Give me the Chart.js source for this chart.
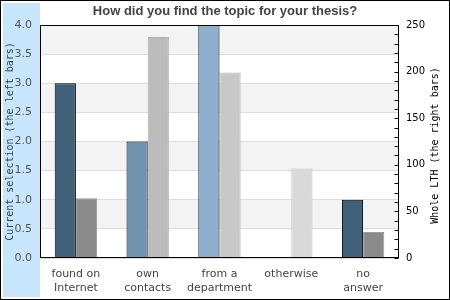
<!DOCTYPE html>
<html>
<head>
<meta charset="utf-8">
<script src="https://cdn.jsdelivr.net/npm/chart.js@4.4.1/dist/chart.umd.min.js"></script>
<style>
  html, body { margin:0; padding:0; background:#fff; }
  canvas { display:block; }
</style>
</head>
<body>
<canvas id="chart" width="450" height="300"></canvas>
<script>
// data
const categories = [['found on','Internet'], ['own','contacts'], ['from a','department'], 'otherwise', ['no','answer']];
const currentSelection = [3, 2, 4, 0, 1];       // left axis
const wholeLth         = [64, 237, 199, 96, 28]; // right axis
const leftTicks  = { min:0, max:4,   step:0.5 };
const rightTicks = { min:0, max:250, step:10, labelEvery:50 };

const TITLE  = 'How did you find the topic for your thesis?';
const LEFT_T = 'Current selection (the left bars)';
const RIGHT_T = 'Whole LTH (the right bars)';

const SANS = "'DejaVu Sans', sans-serif";
const MONO = "'DejaVu Sans Mono', monospace";

const curFill  = ['#416079', '#7394b0', '#8fb0cc', '#8fb0cc', '#416079'];
const lthFill  = ['#8a8a8a', '#bbbbbb', '#c8c8c8', '#d9d9d9', '#8a8a8a'];
const lthEdge  = ['#9a9a9a', '#b0b0b0', '#bcbcbc', '#c4c4c4', '#9a9a9a'];

const chrome = {
  id: 'chrome',
  beforeDraw(chart) {
    const { ctx, chartArea:a, scales:{ y } } = chart;
    ctx.save();
    ctx.fillStyle = '#fff';
    ctx.fillRect(0, 0, chart.width, chart.height);
    ctx.fillStyle = '#c8e6fb';
    ctx.fillRect(3, 3, a.left - 3, chart.height - 6);
    // alternating bands
    ctx.fillStyle = '#f3f3f3';
    for (let i = 0; i < y.ticks.length - 1; i++) {
      if (i % 2 === 0) continue;
      const y0 = y.getPixelForValue(y.ticks[i].value);
      const y1 = y.getPixelForValue(y.ticks[i + 1].value);
      ctx.fillRect(a.left, y1, a.width, y0 - y1);
    }
    ctx.restore();
  },
  afterDraw(chart) {
    const { ctx, chartArea:a, scales:{ y1 } } = chart;
    ctx.save();
    ctx.strokeStyle = '#000';
    ctx.lineWidth = 1;
    const L = Math.round(a.left) + 0.5, T = Math.round(a.top) + 0.5;
    const R = Math.round(a.right) - 0.5, B = Math.round(a.bottom) - 0.5;
    ctx.strokeRect(L, T, R - L, B - T);
    // inward ticks on the right axis
    ctx.beginPath();
    y1.ticks.forEach(t => {
      const py = Math.round(y1.getPixelForValue(t.value)) + 0.5;
      ctx.moveTo(R - 4, py); ctx.lineTo(R, py);
    });
    ctx.stroke();
    // outer frame
    ctx.strokeRect(0.5, 0.5, chart.width - 1, chart.height - 1);
    // right axis title, reading bottom to top
    ctx.translate(435, (a.top + a.bottom) / 2 + 4);
    ctx.rotate(-Math.PI / 2);
    ctx.fillStyle = '#000';
    ctx.font = '10px ' + MONO;
    ctx.textAlign = 'center';
    ctx.textBaseline = 'middle';
    ctx.fillText(RIGHT_T, 0, 0);
    ctx.restore();
  },
};

new Chart(document.getElementById('chart'), {
  type: 'bar',
  data: {
    labels: categories,
    datasets: [
      { label:'Current selection', data:currentSelection, yAxisID:'y',
        backgroundColor:curFill, borderColor:'#000', borderWidth:1,
        categoryPercentage:.59, barPercentage:1 },
      { label:'Whole LTH', data:wholeLth, yAxisID:'y1',
        backgroundColor:lthFill, borderColor:lthEdge, borderWidth:1,
        categoryPercentage:.59, barPercentage:1 },
    ],
  },
  options: {
    responsive:false, animation:false,
    layout:{ padding:0 },
    plugins: {
      legend:{ display:false },
      tooltip:{ enabled:false },
      title:{ display:true, text:TITLE, color:'#444', padding:{ top:4, bottom:5.4 },
              font:{ family:"'Liberation Sans', Arial, sans-serif", size:13, weight:'bold' } },
    },
    scales: {
      x: {
        grid:{ display:false, drawTicks:false }, border:{ display:false },
        ticks:{ color:'#444', padding:10, maxRotation:0, autoSkip:false, font:{ family:SANS, size:11 } },
        afterFit: s => { s.height = 42; },
      },
      y: {
        position:'left', min:leftTicks.min, max:leftTicks.max,
        grid:{ color:'#dddddd', drawTicks:false }, border:{ display:false },
        ticks:{ stepSize:leftTicks.step, autoSkip:false, color:'#555', padding:8,
                font:{ family:SANS, size:11 }, callback:v => v.toFixed(1) },
        title:{ display:true, text:LEFT_T, color:'#2f4050', padding:{ top:4, bottom:0 },
                font:{ family:MONO, size:10 } },
        afterFit: s => { s.width = 40; },
      },
      y1: {
        position:'right', min:rightTicks.min, max:rightTicks.max,
        grid:{ drawOnChartArea:false, drawTicks:false }, border:{ display:false },
        ticks:{ stepSize:rightTicks.step, autoSkip:false, color:'#000', padding:7,
                font:{ family:SANS, size:10 },
                callback:v => (v % rightTicks.labelEvery === 0 ? v : '') },
        afterFit: s => { s.width = 51; },
      },
    },
  },
  plugins:[chrome],
});
</script>
</body>
</html>
